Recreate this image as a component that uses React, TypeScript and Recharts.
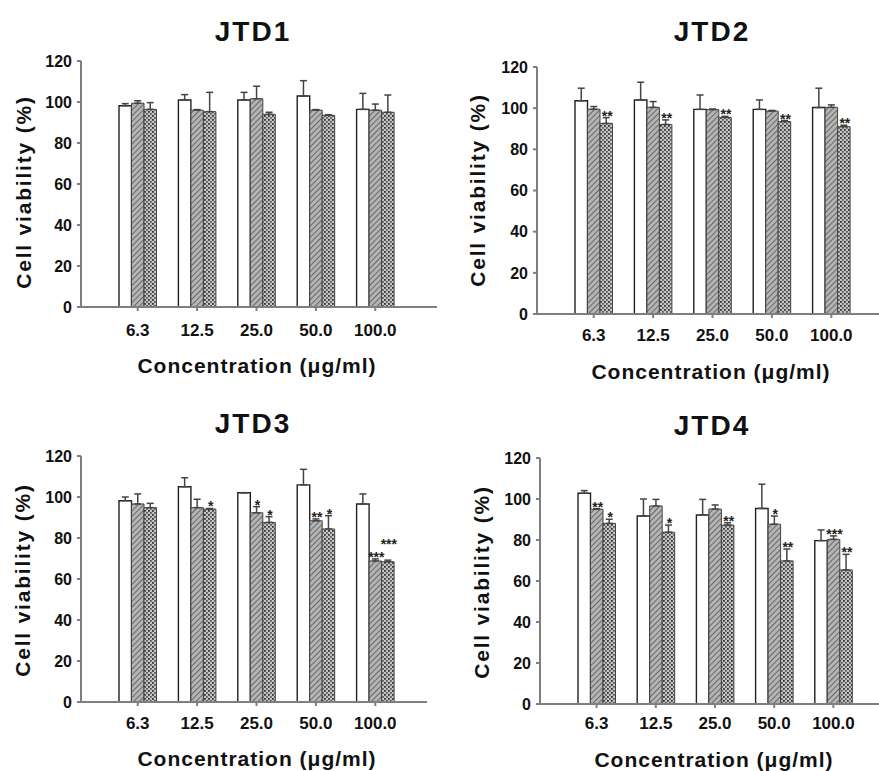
import React from 'react';
import { BarChart, Bar, XAxis, YAxis, ErrorBar, LabelList } from 'recharts';

const CONCENTRATIONS = ['6.3', '12.5', '25.0', '50.0', '100.0'];
const Y_TICKS = [0, 20, 40, 60, 80, 100, 120];

// JTD1
const JTD1_A = [98.2, 101, 101, 102.9, 96.4];
const JTD1_A_ERR = [1.0, 2.6, 3.7, 7.5, 7.8];
const JTD1_B = [99.4, 96, 101.6, 96, 96];
const JTD1_B_ERR = [1.2, 0.3, 6.1, 0.3, 3.0];
const JTD1_C = [96.4, 95.3, 94, 93.5, 95];
const JTD1_C_ERR = [3.3, 9.4, 1.0, 0.3, 8.4];
const JTD1_B_SIG = ['', '', '', '', ''];
const JTD1_C_SIG = ['', '', '', '', ''];

// JTD2
const JTD2_A = [103.6, 104, 99.4, 99.4, 100.3];
const JTD2_A_ERR = [6.1, 8.6, 7.0, 4.6, 9.4];
const JTD2_B = [99.5, 100.4, 99.3, 98.6, 100.4];
const JTD2_B_ERR = [1.3, 2.8, 0.3, 0.3, 1.2];
const JTD2_C = [92.6, 92.1, 95.5, 93.5, 91];
const JTD2_C_ERR = [2.8, 2.2, 0.5, 0.5, 0.7];
const JTD2_B_SIG = ['', '', '', '', ''];
const JTD2_C_SIG = ['**', '**', '**', '**', '**'];

// JTD3
const JTD3_A = [98.2, 105, 102.1, 105.9, 96.6];
const JTD3_A_ERR = [1.8, 4.4, 0, 7.6, 4.9];
const JTD3_B = [96.6, 94.8, 92.3, 88.4, 68.8];
const JTD3_B_ERR = [4.9, 4.1, 3.0, 0.9, 1.0];
const JTD3_C = [94.8, 94.1, 87.6, 84.4, 68.4];
const JTD3_C_ERR = [2.1, 0.3, 2.8, 6.5, 0.8];
const JTD3_B_SIG = ['', '', '*', '**', '***'];
const JTD3_C_SIG = ['', '*', '*', '*', '***'];

// JTD4
const JTD4_A = [102.8, 91.7, 92.2, 95.4, 79.7];
const JTD4_A_ERR = [1.3, 8.3, 7.6, 11.8, 5.2];
const JTD4_B = [95, 96.6, 95.1, 87.7, 80.3];
const JTD4_B_ERR = [0.3, 3.2, 2.0, 4.0, 1.7];
const JTD4_C = [88.1, 83.8, 87.3, 69.8, 65.4];
const JTD4_C_ERR = [2.0, 3.5, 1.1, 5.8, 7.6];
const JTD4_B_SIG = ['**', '', '', '*', '***'];
const JTD4_C_SIG = ['*', '*', '**', '**', '**'];

const FONT = '"Liberation Sans", Arial, sans-serif';
const AXIS_GRAY = '#7f7f7f';
const YW = 45;
const TOP = 14;
const RIGHT = 5;
const XH = 44;
const STAR_SIZE = 14;

type Series = { vals: number[]; errs: number[]; sig: string[] };

const PANELS = [
  {
    id: 'jtd1', title: 'JTD1',
    a: { vals: JTD1_A, errs: JTD1_A_ERR, sig: [] as string[] },
    b: { vals: JTD1_B, errs: JTD1_B_ERR, sig: JTD1_B_SIG },
    c: { vals: JTD1_C, errs: JTD1_C_ERR, sig: JTD1_C_SIG },
    box: { x: 81, y: 61, w: 356, h: 246 }, pad: { left: 27, right: 32 }, tickMargin: 13,
    titleAt: [253, 32], xLabelAt: [257, 365], yLabelAt: [23, 192],
  },
  {
    id: 'jtd2', title: 'JTD2',
    a: { vals: JTD2_A, errs: JTD2_A_ERR, sig: [] as string[] },
    b: { vals: JTD2_B, errs: JTD2_B_ERR, sig: JTD2_B_SIG },
    c: { vals: JTD2_C, errs: JTD2_C_ERR, sig: JTD2_C_SIG },
    box: { x: 537, y: 67, w: 356, h: 247 }, pad: { left: 27, right: 32 }, tickMargin: 11,
    titleAt: [712, 32], xLabelAt: [711, 371], yLabelAt: [477, 190],
  },
  {
    id: 'jtd3', title: 'JTD3',
    a: { vals: JTD3_A, errs: JTD3_A_ERR, sig: [] as string[] },
    b: { vals: JTD3_B, errs: JTD3_B_ERR, sig: JTD3_B_SIG },
    c: { vals: JTD3_C, errs: JTD3_C_ERR, sig: JTD3_C_SIG },
    box: { x: 81, y: 456, w: 346, h: 246 }, pad: { left: 27, right: 22 }, tickMargin: 11,
    titleAt: [253, 424], xLabelAt: [257, 758], yLabelAt: [22, 580],
  },
  {
    id: 'jtd4', title: 'JTD4',
    a: { vals: JTD4_A, errs: JTD4_A_ERR, sig: [] as string[] },
    b: { vals: JTD4_B, errs: JTD4_B_ERR, sig: JTD4_B_SIG },
    c: { vals: JTD4_C, errs: JTD4_C_ERR, sig: JTD4_C_SIG },
    box: { x: 540, y: 458, w: 356, h: 246 }, pad: { left: 27, right: 33 }, tickMargin: 9,
    titleAt: [712, 426], xLabelAt: [714, 759], yLabelAt: [481, 582],
  },
];

const starWidth = (t: string) => t.length * 0.584 * STAR_SIZE;

// asterisks above the error bar; lifted when the neighbour's label would collide with it
const makeSig = (s: Series, other?: Series) => (props: any) => {
  const index = props.index;
  const text = s.sig[index];
  if (!text) return null;
  const vb = props.viewBox && props.viewBox.height != null ? props.viewBox : props;
  const ppu = vb.height / s.vals[index];
  let top = vb.y - s.errs[index] * ppu;
  const otherText = other ? other.sig[index] : '';
  if (other && otherText) {
    const otherTop = vb.y - (other.vals[index] + other.errs[index] - s.vals[index]) * ppu;
    const wide = (starWidth(text) + starWidth(otherText)) / 2 > vb.width;
    if (wide && Math.abs(top - otherTop) < 12) top = Math.min(top, otherTop) - 13;
  }
  return (
    <text x={vb.x + vb.width / 2 + 1} y={top + 3} textAnchor="middle" fontSize={STAR_SIZE}
      fontWeight="bold" fontFamily={FONT} fill="#222">
      {text}
    </text>
  );
};

const Panel = ({ p }: { p: (typeof PANELS)[number] }) => {
  const rows = CONCENTRATIONS.map((conc, i) => ({
    conc,
    a: p.a.vals[i], b: p.b.vals[i], c: p.c.vals[i],
    ea: [0, p.a.errs[i]], eb: [0, p.b.errs[i]], ec: [0, p.c.errs[i]],
  }));
  const tickStyle = { fontSize: 16, fontWeight: 'bold', fill: '#111', fontFamily: FONT };
  const line = { stroke: AXIS_GRAY, strokeWidth: 2 };
  const err = { stroke: '#444', strokeWidth: 1.5, width: 3.5 };
  return (
    <div style={{ position: 'absolute', left: p.box.x - YW, top: p.box.y - TOP }}>
      <BarChart width={YW + p.box.w + RIGHT} height={TOP + p.box.h + XH} data={rows}
        margin={{ top: TOP, right: RIGHT, bottom: 0, left: 0 }} barSize={12.5} barGap={0}
        style={{ overflow: 'visible' }}>
        <defs>
          <pattern id={`${p.id}-hatch`} width="4" height="4" patternUnits="userSpaceOnUse" patternTransform="rotate(45)">
            <rect width="4" height="4" fill="#b4b4b4" />
            <line x1="0" y1="0" x2="0" y2="4" stroke="#555" strokeWidth="1.6" />
          </pattern>
          <pattern id={`${p.id}-dots`} width="4" height="4" patternUnits="userSpaceOnUse">
            <rect width="4" height="4" fill="#c4c4c4" />
            <rect x="0" y="0" width="1.8" height="1.8" fill="#333" />
            <rect x="2" y="2" width="1.8" height="1.8" fill="#5a5a5a" />
          </pattern>
        </defs>
        <XAxis dataKey="conc" padding={p.pad} interval={0} tickSize={4} tickMargin={p.tickMargin}
          height={XH} tick={{ ...tickStyle, fontSize: 17 }} axisLine={line} tickLine={line} />
        <XAxis xAxisId="top" orientation="top" dataKey="conc" padding={p.pad} height={0}
          tick={false} tickLine={false} axisLine={line} />
        <YAxis domain={[0, 120]} ticks={Y_TICKS} interval={0} width={YW} tickSize={4} tickMargin={5}
          tick={tickStyle} axisLine={line} tickLine={line} />
        <YAxis yAxisId="right" orientation="right" domain={[0, 120]} width={0}
          tick={false} tickLine={false} axisLine={line} />
        <Bar dataKey="a" fill="#fff" stroke="#222" strokeWidth={1.4} isAnimationActive={false}>
          <ErrorBar dataKey="ea" direction="y" {...err} />
        </Bar>
        <Bar dataKey="b" fill={`url(#${p.id}-hatch)`} stroke="#444" strokeWidth={1} isAnimationActive={false}>
          <ErrorBar dataKey="eb" direction="y" {...err} />
          <LabelList dataKey="b" content={makeSig(p.b)} />
        </Bar>
        <Bar dataKey="c" fill={`url(#${p.id}-dots)`} stroke="#444" strokeWidth={1} isAnimationActive={false}>
          <ErrorBar dataKey="ec" direction="y" {...err} />
          <LabelList dataKey="c" content={makeSig(p.c, p.b)} />
        </Bar>
      </BarChart>
    </div>
  );
};

const centered = (x: number, y: number, extra: React.CSSProperties = {}): React.CSSProperties => ({
  position: 'absolute', left: x, top: y, transform: 'translate(-50%, -50%)',
  whiteSpace: 'nowrap', fontWeight: 'bold', color: '#111', fontFamily: FONT, lineHeight: 1, ...extra,
});

export default function App() {
  return (
    <div style={{ position: 'absolute', left: 0, top: 0, width: 879, height: 771, overflow: 'hidden', background: '#fff' }}>
      {PANELS.map((p) => (
        <React.Fragment key={p.id}>
          <Panel p={p} />
          <div style={centered(p.titleAt[0], p.titleAt[1], { fontSize: 28, letterSpacing: 2 })}>{p.title}</div>
          <div style={centered(p.xLabelAt[0], p.xLabelAt[1], { fontSize: 21, letterSpacing: 1 })}>
            Concentration (μg/ml)
          </div>
          <div style={centered(p.yLabelAt[0], p.yLabelAt[1], {
            fontSize: 21, letterSpacing: 1.8, transform: 'translate(-50%, -50%) rotate(-90deg)',
          })}>
            Cell viability (%)
          </div>
        </React.Fragment>
      ))}
    </div>
  );
}
